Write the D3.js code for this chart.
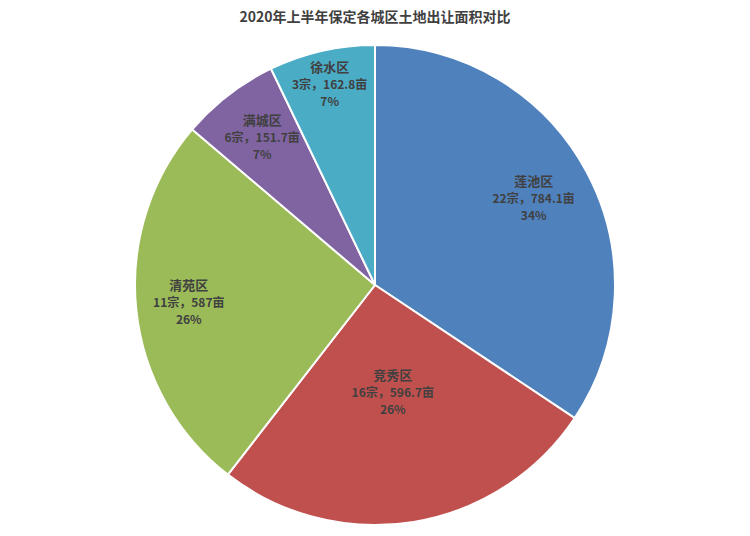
<!DOCTYPE html>
<html><head><meta charset="utf-8">
<script src="https://cdn.jsdelivr.net/npm/d3@7"></script>
<style>
body{margin:0;background:#fff;font-family:"Noto Sans CJK SC","Noto Sans",sans-serif}
.lbl{font-size:12px;font-weight:bold;fill:#404040;text-anchor:middle}
</style></head><body>
<svg id="chart" width="750" height="536"></svg>
<script>
const districts = ["莲池区", "竞秀区", "清苑区", "满城区", "徐水区"];
const counts = [22, 16, 11, 6, 3];
const areas = [784.1, 596.7, 587, 151.7, 162.8];
const percents = ["34%", "26%", "26%", "7%", "7%"];
const colors = ["#4F81BD", "#C0504D", "#9BBB59", "#8064A2", "#4BACC6"];
// label distance from centre, as a share of radius
const labelPos = [0.75, 0.46, 0.78, 0.77, 0.85];

const svg = d3.select("#chart");
const cx = 375, cy = 285, R = 240;

svg.append("text").attr("x", 375).attr("y", 22).attr("text-anchor", "middle")
  .style("font-size", "14px").style("font-weight", "bold").style("fill", "#404040")
  .text("2020年上半年保定各城区土地出让面积对比");

const data = districts.map((d, i) => ({ name: d, count: counts[i], area: areas[i], pct: percents[i], i }));
const pie = d3.pie().sort(null).value(d => d.area);
const arc = d3.arc().innerRadius(0).outerRadius(R);
const arcs = pie(data);

const g = svg.append("g").attr("transform", `translate(${cx},${cy})`);
g.selectAll("path").data(arcs).join("path")
  .attr("d", arc).attr("fill", d => colors[d.data.i])
  .attr("stroke", "#fff").attr("stroke-width", 2);

arcs.forEach(a => {
  const r = R * labelPos[a.data.i];
  const la = d3.arc().innerRadius(r).outerRadius(r);
  const [x, y] = la.centroid(a);
  const t = g.append("text").attr("class", "lbl").attr("x", x).attr("y", y - 14);
  const lines = [a.data.name, `${a.data.count}宗，${a.data.area}亩`, a.data.pct];
  lines.forEach((s, k) => t.append("tspan").attr("x", x).attr("dy", k ? 17 : 0)
    .style("font-size", k === 0 ? "13px" : "12px").text(s));
});
</script></body></html>
